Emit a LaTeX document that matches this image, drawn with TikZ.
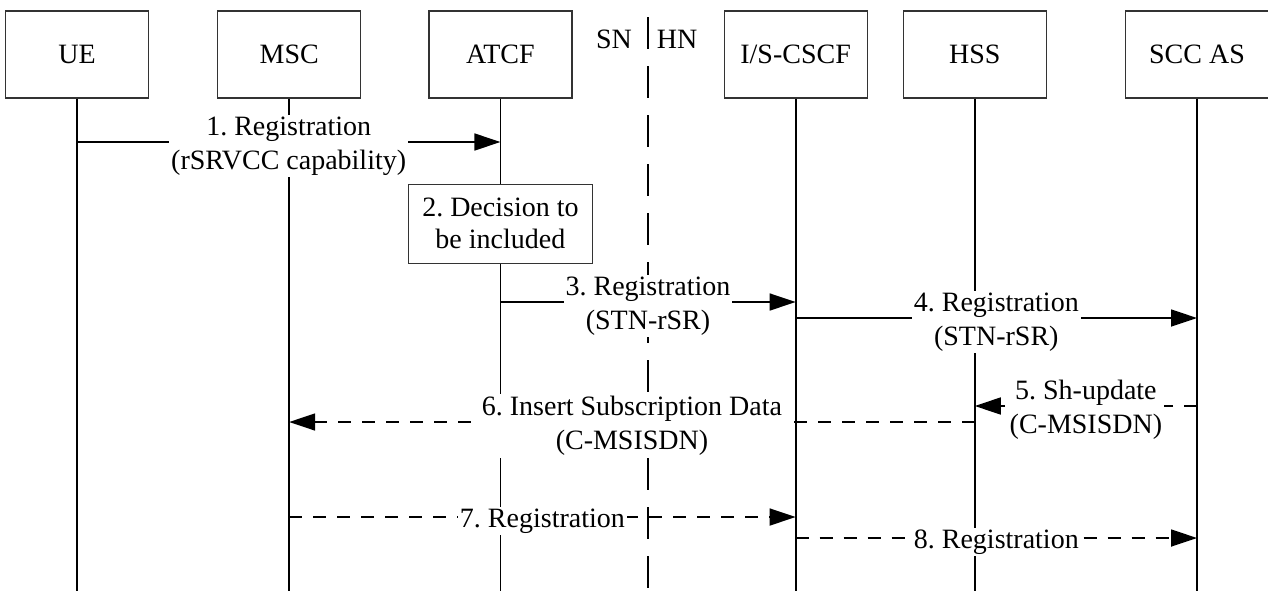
\documentclass[tikz,border=0pt]{standalone}
\usepackage{fontspec}
\setmainfont{Liberation Serif}
\usepackage{tikz}
\usetikzlibrary{arrows.meta, positioning, calc}
\newcommand{\sqfont}{\fontsize{14}{17}\selectfont\frenchspacing}
\tikzset{
  entbox/.style={draw=black!80, line width=0.6pt, minimum width=71.5pt, minimum height=43.5pt, inner sep=0pt, font=\sqfont},
  actbox/.style={draw=black!80, fill=white, line width=0.6pt, minimum width=92pt, minimum height=39.5pt, inner sep=0pt, align=center, font=\fontsize{14}{16}\selectfont\frenchspacing},
  lifeline/.style={line width=0.9pt},
  divline/.style={line width=0.9pt, dash pattern=on 16pt off 8.5pt},
  msg/.style={-{Triangle[length=13pt, width=8.5pt]}, line width=0.85pt},
  dmsg/.style={msg, dash pattern=on 6.5pt off 5.5pt},
  msglabel/.style={fill=white, inner sep=1pt, yshift=-2pt, align=center, font=\sqfont},
  netlabel/.style={inner sep=0pt, font=\sqfont},
}

\begin{document}
\begin{tikzpicture}[x=0.5pt, y=-0.5pt]
  \useasboundingbox (0,0) rectangle (1268,591);
  % entities
  \node[entbox] (ue) at (77,54.5) {UE};
  \node[entbox, right=34pt of ue] (msc) {MSC};
  \node[entbox, right=33.5pt of msc] (atcf) {ATCF};
  \node[entbox, right=75.5pt of atcf] (cscf) {I/S-CSCF};
  \node[entbox, right=17.5pt of cscf] (hss) {HSS};
  \node[entbox, right=39pt of hss] (scc) {SCC AS};
  \coordinate (bot) at (0,591);
  \foreach \n in {ue,msc,atcf,cscf,hss,scc} \draw[lifeline] (\n.south) -- (\n |- bot);
  % serving / home network split
  \coordinate (divtop) at (648,17);
  \draw[divline] (divtop) -- (divtop |- bot);
  \node[netlabel] (sn) at (614,39) {SN};
  \node[netlabel] (hn) at (677,39) {HN};
  % messages
  \coordinate (y1) at (0,142);
  \coordinate (y3) at (0,302);
  \coordinate (y4) at (0,318);
  \coordinate (y5) at (0,406);
  \coordinate (y6) at (0,422);
  \coordinate (y7) at (0,517);
  \coordinate (y8) at (0,538);
  \draw[msg] (ue |- y1) -- (atcf |- y1) node[msglabel, midway] {1. Registration\\(rSRVCC capability)};
  \node[actbox, below=42.5pt of atcf] (dec) {2. Decision to\\be included};
  \draw[msg] (atcf |- y3) -- (cscf |- y3) node[msglabel, midway] {3. Registration\\(STN-rSR)};
  \draw[msg] (cscf |- y4) -- (scc |- y4) node[msglabel, midway] {4. Registration\\(STN-rSR)};
  \draw[dmsg] (scc |- y5) -- (hss |- y5) node[msglabel, midway] {5. Sh-update\\(C-MSISDN)};
  \draw[dmsg] (hss |- y6) -- (msc |- y6) node[msglabel, midway] {6. Insert Subscription Data\\(C-MSISDN)};
  \draw[dmsg] (msc |- y7) -- (cscf |- y7) node[msglabel, midway] {7. Registration};
  \draw[dmsg] (cscf |- y8) -- (scc |- y8) node[msglabel, midway] {8. Registration};
\end{tikzpicture}
\end{document}
